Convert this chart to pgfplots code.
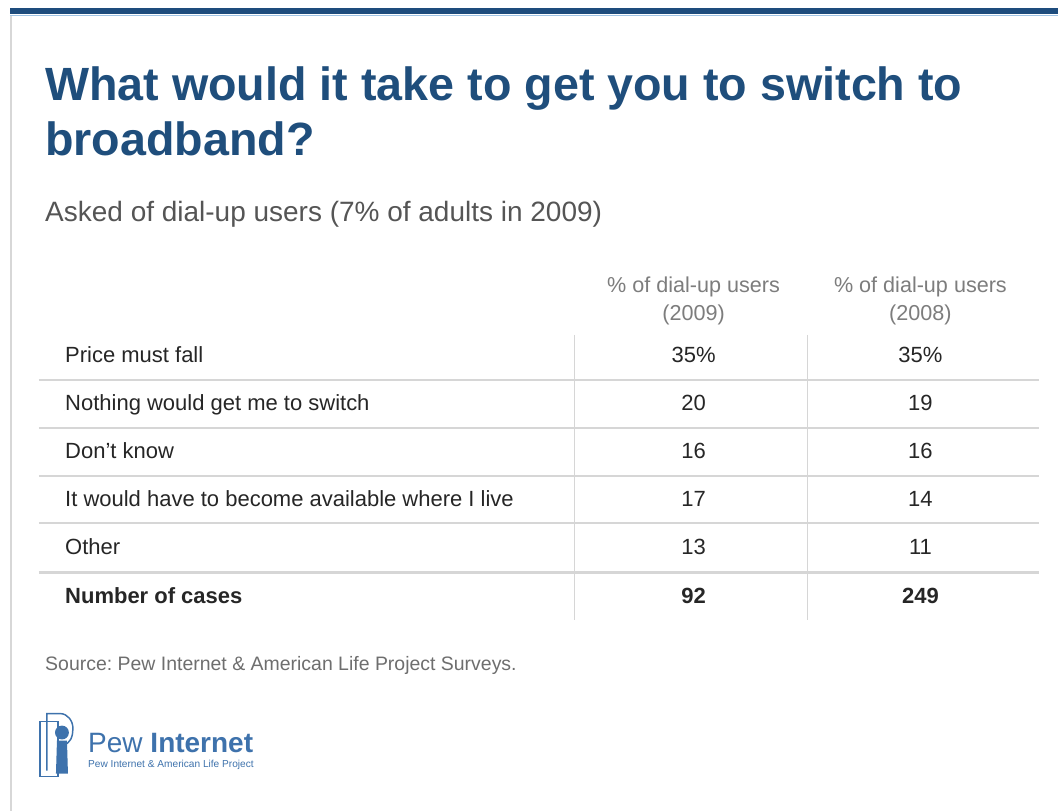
\documentclass[border=0pt]{standalone}
\usepackage{fontspec}
\setmainfont{Liberation Sans}
\usepackage{pgfplots}
\pgfplotsset{compat=1.18}
\frenchspacing
\definecolor{titleblue}{RGB}{31,78,124}
\definecolor{barblue}{RGB}{30,76,125}
\definecolor{lightbar}{RGB}{160,195,228}
\definecolor{rulegray}{RGB}{214,214,214}
\definecolor{bodytext}{RGB}{38,38,38}
\definecolor{headgray}{RGB}{125,125,125}
\definecolor{subgray}{RGB}{85,85,85}
\definecolor{srcgray}{RGB}{110,110,110}
\definecolor{logoblue}{RGB}{62,114,172}
\definecolor{bordergray}{RGB}{215,215,215}
\pgfplotsset{
  textplot/.style={only marks, mark=*, mark size=0pt, mark options={draw=none,fill=none},
     point meta=explicit symbolic, nodes near coords,
     every node near coord/.append style={anchor=base, inner sep=0pt, #1}},
  tablerule/.style={no markers, color=rulegray, line width=#1},
}
\begin{document}
\begin{tikzpicture}
\begin{axis}[
  scale only axis, width=794.25pt, height=608.25pt,
  xmin=0, xmax=1059, ymin=0, ymax=811, y dir=reverse,
  hide axis, clip=false,
]
% background and frame
\fill[white] (axis cs:0,0) rectangle (axis cs:1059,811);
\fill[barblue] (axis cs:10,8) rectangle (axis cs:1059,14.5);
\draw[lightbar, line width=1pt] (axis cs:10,15.5) -- (axis cs:1059,15.5);
\draw[bordergray, line width=1.1pt] (axis cs:11,16) -- (axis cs:11,811);

% titles
\node[anchor=base west, inner sep=0pt, text=titleblue, font=\fontsize{35}{40}\selectfont\bfseries] at (axis cs:45,101) {What would it take to get you to switch to};
\node[anchor=base west, inner sep=0pt, text=titleblue, font=\fontsize{35}{40}\selectfont\bfseries] at (axis cs:45,156) {broadband?};
\node[anchor=base west, inner sep=0pt, text=subgray, font=\fontsize{21}{25}\selectfont] at (axis cs:45,222) {Asked of dial-up users (7\% of adults in 2009)};

% column headers
\node[anchor=base, inner sep=0pt, text=headgray, font=\fontsize{16.2}{19}\selectfont] at (axis cs:694,293) {\% of dial-up users};
\node[anchor=base, inner sep=0pt, text=headgray, font=\fontsize{16.2}{19}\selectfont] at (axis cs:694,321) {(2009)};
\node[anchor=base, inner sep=0pt, text=headgray, font=\fontsize{16.2}{19}\selectfont] at (axis cs:921,293) {\% of dial-up users};
\node[anchor=base, inner sep=0pt, text=headgray, font=\fontsize{16.2}{19}\selectfont] at (axis cs:921,321) {(2008)};

% table rules
\addplot[tablerule=1.5pt] coordinates {(39,380) (1040,380)};
\addplot[tablerule=1.5pt] coordinates {(39,428) (1040,428)};
\addplot[tablerule=1.5pt] coordinates {(39,476) (1040,476)};
\addplot[tablerule=1.5pt] coordinates {(39,523.5) (1040,523.5)};
\addplot[tablerule=2.6pt] coordinates {(39,573) (1040,573)};
\addplot[tablerule=1.1pt] coordinates {(575,335) (575,620)};
\addplot[tablerule=1.1pt] coordinates {(808,335) (808,620)};

% row labels
\addplot[textplot={anchor=base west, text=bodytext, font=\fontsize{16.5}{19}\selectfont}]
  table[col sep=comma, row sep=\\, x=x, y=y, meta=t] {
x,y,t\\
65,363,Price must fall\\
65,411,Nothing would get me to switch\\
65,459,Don't know\\
65,507,It would have to become available where I live\\
65,555,Other\\
};
\addplot[textplot={anchor=base west, text=bodytext, font=\fontsize{16.5}{19}\selectfont\bfseries}]
  table[col sep=comma, row sep=\\, x=x, y=y, meta=t] {
x,y,t\\
65,604,Number of cases\\
};

% values 2009
\addplot[textplot={anchor=base, text=bodytext, font=\fontsize{16.5}{19}\selectfont}]
  table[col sep=comma, row sep=\\, x=x, y=y, meta=t] {
x,y,t\\
694,363,35\%\\
694,411,20\\
694,459,16\\
694,507,17\\
694,555,13\\
};
% values 2008
\addplot[textplot={anchor=base, text=bodytext, font=\fontsize{16.5}{19}\selectfont}]
  table[col sep=comma, row sep=\\, x=x, y=y, meta=t] {
x,y,t\\
921,363,35\%\\
921,411,19\\
921,459,16\\
921,507,14\\
921,555,11\\
};
% number of cases
\addplot[textplot={anchor=base, text=bodytext, font=\fontsize{16.5}{19}\selectfont\bfseries}]
  table[col sep=comma, row sep=\\, x=x, y=y, meta=t] {
x,y,t\\
694,604,92\\
921,604,249\\
};

% source
\node[anchor=base west, inner sep=0pt, text=srcgray, font=\fontsize{14.6}{17}\selectfont] at (axis cs:45,671) {Source: Pew Internet \& American Life Project Surveys.};

% logo
\draw[logoblue, line width=1.1pt] (axis cs:40,777) -- (axis cs:40,722) -- (axis cs:58,722) -- (axis cs:58,777) -- cycle;
\draw[logoblue, line width=1.1pt] (axis cs:47,771) -- (axis cs:47,714) -- (axis cs:60,714)
   to[out=0,in=90] (axis cs:73,729) to[out=-90,in=0] (axis cs:63,745);
\fill[logoblue] (axis cs:62,733) circle[radius=5.2pt];
\fill[logoblue] (axis cs:57,741) -- (axis cs:67,741) -- (axis cs:68,774) -- (axis cs:56,774) -- cycle;
\node[anchor=base west, inner sep=0pt, text=logoblue, font=\fontsize{21}{24}\selectfont] at (axis cs:88,753) {Pew \textbf{Internet}};
\node[anchor=base west, inner sep=0pt, text=logoblue, font=\fontsize{7.6}{9}\selectfont] at (axis cs:88,768) {Pew Internet \& American Life Project};
\end{axis}
\end{tikzpicture}
\end{document}
